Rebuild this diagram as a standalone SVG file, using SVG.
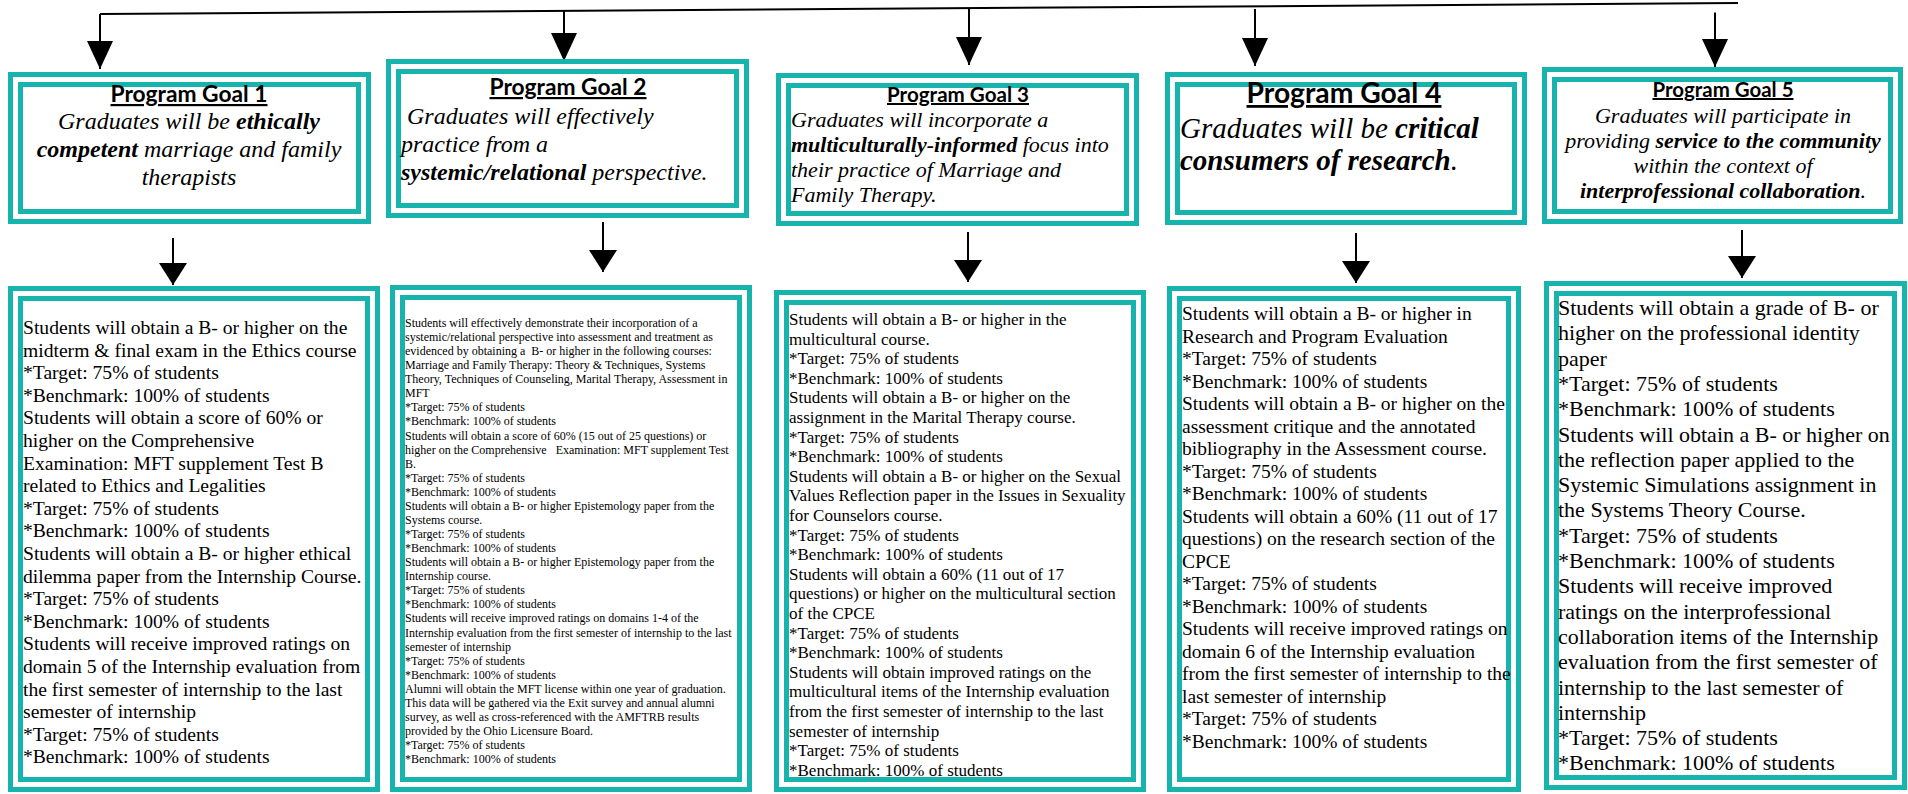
<svg xmlns="http://www.w3.org/2000/svg" width="1908" height="794" viewBox="0 0 1908 794">
<style>
.ob{fill:#fff;stroke:#17b3ad;stroke-width:5}
.ib{fill:#fff;stroke:#17b3ad;stroke-width:5}
.ttl{font-family:Lato,"Liberation Sans",sans-serif;font-weight:bold;text-decoration:underline;text-anchor:middle;fill:#000}
.g{font-family:"Liberation Serif","Times New Roman",serif;font-style:italic;fill:#000;white-space:pre}
.b{font-weight:bold}
.bd{font-family:"Liberation Serif","Times New Roman",serif;fill:#000;white-space:pre}
.ln{stroke:#000;stroke-width:2;fill:none}
</style>
<defs>
<marker id="ht" markerUnits="userSpaceOnUse" markerWidth="29" markerHeight="26" refX="28" refY="13" orient="auto"><path d="M0,0 L28,13 L0,26 z" fill="#000"/></marker>
<marker id="hm" markerUnits="userSpaceOnUse" markerWidth="23" markerHeight="28" refX="22" refY="14" orient="auto"><path d="M0,0 L22,14 L0,28 z" fill="#000"/></marker>
</defs>
<rect width="1908" height="794" fill="#fff"/>
<g id="connectors">
<line class="ln" x1="100" y1="14" x2="1738" y2="3"/>
<line class="ln" x1="100" y1="14" x2="100" y2="69" marker-end="url(#ht)"/>
<line class="ln" x1="564" y1="11" x2="564" y2="61" marker-end="url(#ht)"/>
<line class="ln" x1="969" y1="8.3" x2="969" y2="65" marker-end="url(#ht)"/>
<line class="ln" x1="1255" y1="9" x2="1255" y2="66" marker-end="url(#ht)"/>
<line class="ln" x1="1715" y1="12.5" x2="1715" y2="67" marker-end="url(#ht)"/>
<line class="ln" x1="173" y1="238" x2="173" y2="285" marker-end="url(#hm)"/>
<line class="ln" x1="603" y1="222" x2="603" y2="272" marker-end="url(#hm)"/>
<line class="ln" x1="968" y1="232" x2="968" y2="282" marker-end="url(#hm)"/>
<line class="ln" x1="1356" y1="233" x2="1356" y2="283" marker-end="url(#hm)"/>
<line class="ln" x1="1742" y1="230" x2="1742" y2="278" marker-end="url(#hm)"/>
</g>
<g id="goal1">
<rect class="ob" x="10.5" y="74.5" width="358" height="147"/>
<rect class="ib" x="20.5" y="84.5" width="338" height="127"/>
<text class="ttl" x="189" y="102" font-size="22" textLength="157" lengthAdjust="spacingAndGlyphs">Program Goal 1</text>
<text class="g" font-size="24" text-anchor="middle"><tspan x="189" y="129">Graduates will be <tspan class="b">ethically</tspan></tspan><tspan x="189" y="157"><tspan class="b">competent</tspan> marriage and family</tspan><tspan x="189" y="185">therapists</tspan></text>
</g>
<g id="goal2">
<rect class="ob" x="388.5" y="61.5" width="358" height="154"/>
<rect class="ib" x="398.5" y="71.5" width="338" height="134"/>
<text class="ttl" x="568" y="95" font-size="22" textLength="157" lengthAdjust="spacingAndGlyphs">Program Goal 2</text>
<text class="g" font-size="24"><tspan x="401" y="124"> Graduates will effectively</tspan><tspan x="401" y="152">practice from a</tspan><tspan x="401" y="180"><tspan class="b">systemic/relational</tspan> perspective.</tspan></text>
</g>
<g id="goal3">
<rect class="ob" x="778.5" y="75.5" width="358" height="148"/>
<rect class="ib" x="788.5" y="85.5" width="338" height="128"/>
<text class="ttl" x="958" y="102" font-size="20" textLength="142" lengthAdjust="spacingAndGlyphs">Program Goal 3</text>
<text class="g" font-size="22"><tspan x="791" y="127">Graduates will incorporate a</tspan><tspan x="791" y="152"><tspan class="b">multiculturally-informed</tspan> focus into</tspan><tspan x="791" y="177">their practice of Marriage and</tspan><tspan x="791" y="202">Family Therapy.</tspan></text>
</g>
<g id="goal4">
<rect class="ob" x="1167.5" y="74.5" width="357" height="148"/>
<rect class="ib" x="1177.5" y="84.5" width="337" height="128"/>
<text class="ttl" x="1344" y="103" font-size="28" textLength="195" lengthAdjust="spacingAndGlyphs">Program Goal 4</text>
<text class="g" font-size="29"><tspan x="1180" y="138">Graduates will be <tspan class="b">critical</tspan></tspan><tspan x="1180" y="170"><tspan class="b">consumers of research</tspan>.</tspan></text>
</g>
<g id="goal5">
<rect class="ob" x="1544.5" y="69.5" width="356" height="152"/>
<rect class="ib" x="1554.5" y="79.5" width="336" height="132"/>
<text class="ttl" x="1723" y="97" font-size="20" textLength="141" lengthAdjust="spacingAndGlyphs">Program Goal 5</text>
<text class="g" font-size="22" text-anchor="middle"><tspan x="1723" y="123">Graduates will participate in</tspan><tspan x="1723" y="148">providing <tspan class="b">service to the community</tspan></tspan><tspan x="1723" y="173">within the context of</tspan><tspan x="1723" y="198"><tspan class="b">interprofessional collaboration</tspan>.</tspan></text>
</g>
<g id="outcomes1">
<rect class="ob" x="10.5" y="288.5" width="367" height="501"/>
<rect class="ib" x="20.5" y="298.5" width="347" height="481"/>
<text class="bd" font-size="19.6" x="23" y="334"><tspan x="23" dy="0">Students will obtain a B- or higher on the</tspan><tspan x="23" dy="22.6">midterm &amp; final exam in the Ethics course</tspan><tspan x="23" dy="22.6">*Target: 75% of students</tspan><tspan x="23" dy="22.6">*Benchmark: 100% of students</tspan><tspan x="23" dy="22.6">Students will obtain a score of 60% or</tspan><tspan x="23" dy="22.6">higher on the Comprehensive</tspan><tspan x="23" dy="22.6">Examination: MFT supplement Test B</tspan><tspan x="23" dy="22.6">related to Ethics and Legalities</tspan><tspan x="23" dy="22.6">*Target: 75% of students</tspan><tspan x="23" dy="22.6">*Benchmark: 100% of students</tspan><tspan x="23" dy="22.6">Students will obtain a B- or higher ethical</tspan><tspan x="23" dy="22.6">dilemma paper from the Internship Course.</tspan><tspan x="23" dy="22.6">*Target: 75% of students</tspan><tspan x="23" dy="22.6">*Benchmark: 100% of students</tspan><tspan x="23" dy="22.6">Students will receive improved ratings on</tspan><tspan x="23" dy="22.6">domain 5 of the Internship evaluation from</tspan><tspan x="23" dy="22.6">the first semester of internship to the last</tspan><tspan x="23" dy="22.6">semester of internship</tspan><tspan x="23" dy="22.6">*Target: 75% of students</tspan><tspan x="23" dy="22.6">*Benchmark: 100% of students</tspan></text>
</g>
<g id="outcomes2">
<rect class="ob" x="392.5" y="287.5" width="357" height="502"/>
<rect class="ib" x="402.5" y="297.5" width="337" height="482"/>
<text class="bd" font-size="12" x="405" y="327"><tspan x="405" dy="0">Students will effectively demonstrate their incorporation of a</tspan><tspan x="405" dy="14.07">systemic/relational perspective into assessment and treatment as</tspan><tspan x="405" dy="14.07">evidenced by obtaining a  B- or higher in the following courses:</tspan><tspan x="405" dy="14.07">Marriage and Family Therapy: Theory &amp; Techniques, Systems</tspan><tspan x="405" dy="14.07">Theory, Techniques of Counseling, Marital Therapy, Assessment in</tspan><tspan x="405" dy="14.07">MFT</tspan><tspan x="405" dy="14.07">*Target: 75% of students</tspan><tspan x="405" dy="14.07">*Benchmark: 100% of students</tspan><tspan x="405" dy="14.07">Students will obtain a score of 60% (15 out of 25 questions) or</tspan><tspan x="405" dy="14.07">higher on the Comprehensive   Examination: MFT supplement Test</tspan><tspan x="405" dy="14.07">B.</tspan><tspan x="405" dy="14.07">*Target: 75% of students</tspan><tspan x="405" dy="14.07">*Benchmark: 100% of students</tspan><tspan x="405" dy="14.07">Students will obtain a B- or higher Epistemology paper from the</tspan><tspan x="405" dy="14.07">Systems course.</tspan><tspan x="405" dy="14.07">*Target: 75% of students</tspan><tspan x="405" dy="14.07">*Benchmark: 100% of students</tspan><tspan x="405" dy="14.07">Students will obtain a B- or higher Epistemology paper from the</tspan><tspan x="405" dy="14.07">Internship course.</tspan><tspan x="405" dy="14.07">*Target: 75% of students</tspan><tspan x="405" dy="14.07">*Benchmark: 100% of students</tspan><tspan x="405" dy="14.07">Students will receive improved ratings on domains 1-4 of the</tspan><tspan x="405" dy="14.07">Internship evaluation from the first semester of internship to the last</tspan><tspan x="405" dy="14.07">semester of internship</tspan><tspan x="405" dy="14.07">*Target: 75% of students</tspan><tspan x="405" dy="14.07">*Benchmark: 100% of students</tspan><tspan x="405" dy="14.07">Alumni will obtain the MFT license within one year of graduation.</tspan><tspan x="405" dy="14.07">This data will be gathered via the Exit survey and annual alumni</tspan><tspan x="405" dy="14.07">survey, as well as cross-referenced with the AMFTRB results</tspan><tspan x="405" dy="14.07">provided by the Ohio Licensure Board.</tspan><tspan x="405" dy="14.07">*Target: 75% of students</tspan><tspan x="405" dy="14.07">*Benchmark: 100% of students</tspan></text>
</g>
<g id="outcomes3">
<rect class="ob" x="776.5" y="292.5" width="367" height="497"/>
<rect class="ib" x="786.5" y="302.5" width="347" height="477"/>
<text class="bd" font-size="17" x="789" y="325"><tspan x="789" dy="0">Students will obtain a B- or higher in the</tspan><tspan x="789" dy="19.6">multicultural course.</tspan><tspan x="789" dy="19.6">*Target: 75% of students</tspan><tspan x="789" dy="19.6">*Benchmark: 100% of students</tspan><tspan x="789" dy="19.6">Students will obtain a B- or higher on the</tspan><tspan x="789" dy="19.6">assignment in the Marital Therapy course.</tspan><tspan x="789" dy="19.6">*Target: 75% of students</tspan><tspan x="789" dy="19.6">*Benchmark: 100% of students</tspan><tspan x="789" dy="19.6">Students will obtain a B- or higher on the Sexual</tspan><tspan x="789" dy="19.6">Values Reflection paper in the Issues in Sexuality</tspan><tspan x="789" dy="19.6">for Counselors course.</tspan><tspan x="789" dy="19.6">*Target: 75% of students</tspan><tspan x="789" dy="19.6">*Benchmark: 100% of students</tspan><tspan x="789" dy="19.6">Students will obtain a 60% (11 out of 17</tspan><tspan x="789" dy="19.6">questions) or higher on the multicultural section</tspan><tspan x="789" dy="19.6">of the CPCE</tspan><tspan x="789" dy="19.6">*Target: 75% of students</tspan><tspan x="789" dy="19.6">*Benchmark: 100% of students</tspan><tspan x="789" dy="19.6">Students will obtain improved ratings on the</tspan><tspan x="789" dy="19.6">multicultural items of the Internship evaluation</tspan><tspan x="789" dy="19.6">from the first semester of internship to the last</tspan><tspan x="789" dy="19.6">semester of internship</tspan><tspan x="789" dy="19.6">*Target: 75% of students</tspan><tspan x="789" dy="19.6">*Benchmark: 100% of students</tspan></text>
</g>
<g id="outcomes4">
<rect class="ob" x="1169.5" y="288.5" width="349" height="501"/>
<rect class="ib" x="1179.5" y="298.5" width="329" height="481"/>
<text class="bd" font-size="19.5" x="1182" y="320"><tspan x="1182" dy="0">Students will obtain a B- or higher in</tspan><tspan x="1182" dy="22.5">Research and Program Evaluation</tspan><tspan x="1182" dy="22.5">*Target: 75% of students</tspan><tspan x="1182" dy="22.5">*Benchmark: 100% of students</tspan><tspan x="1182" dy="22.5">Students will obtain a B- or higher on the</tspan><tspan x="1182" dy="22.5">assessment critique and the annotated</tspan><tspan x="1182" dy="22.5">bibliography in the Assessment course.</tspan><tspan x="1182" dy="22.5">*Target: 75% of students</tspan><tspan x="1182" dy="22.5">*Benchmark: 100% of students</tspan><tspan x="1182" dy="22.5">Students will obtain a 60% (11 out of 17</tspan><tspan x="1182" dy="22.5">questions) on the research section of the</tspan><tspan x="1182" dy="22.5">CPCE</tspan><tspan x="1182" dy="22.5">*Target: 75% of students</tspan><tspan x="1182" dy="22.5">*Benchmark: 100% of students</tspan><tspan x="1182" dy="22.5">Students will receive improved ratings on</tspan><tspan x="1182" dy="22.5">domain 6 of the Internship evaluation</tspan><tspan x="1182" dy="22.5">from the first semester of internship to the</tspan><tspan x="1182" dy="22.5">last semester of internship</tspan><tspan x="1182" dy="22.5">*Target: 75% of students</tspan><tspan x="1182" dy="22.5">*Benchmark: 100% of students</tspan></text>
</g>
<g id="outcomes5">
<rect class="ob" x="1546.5" y="283.5" width="358" height="504"/>
<rect class="ib" x="1556.5" y="293.5" width="338" height="484"/>
<text class="bd" font-size="22" x="1558" y="315"><tspan x="1558" dy="0">Students will obtain a grade of B- or</tspan><tspan x="1558" dy="25.3">higher on the professional identity</tspan><tspan x="1558" dy="25.3">paper</tspan><tspan x="1558" dy="25.3">*Target: 75% of students</tspan><tspan x="1558" dy="25.3">*Benchmark: 100% of students</tspan><tspan x="1558" dy="25.3">Students will obtain a B- or higher on</tspan><tspan x="1558" dy="25.3">the reflection paper applied to the</tspan><tspan x="1558" dy="25.3">Systemic Simulations assignment in</tspan><tspan x="1558" dy="25.3">the Systems Theory Course.</tspan><tspan x="1558" dy="25.3">*Target: 75% of students</tspan><tspan x="1558" dy="25.3">*Benchmark: 100% of students</tspan><tspan x="1558" dy="25.3">Students will receive improved</tspan><tspan x="1558" dy="25.3">ratings on the interprofessional</tspan><tspan x="1558" dy="25.3">collaboration items of the Internship</tspan><tspan x="1558" dy="25.3">evaluation from the first semester of</tspan><tspan x="1558" dy="25.3">internship to the last semester of</tspan><tspan x="1558" dy="25.3">internship</tspan><tspan x="1558" dy="25.3">*Target: 75% of students</tspan><tspan x="1558" dy="25.3">*Benchmark: 100% of students</tspan></text>
</g>
</svg>
